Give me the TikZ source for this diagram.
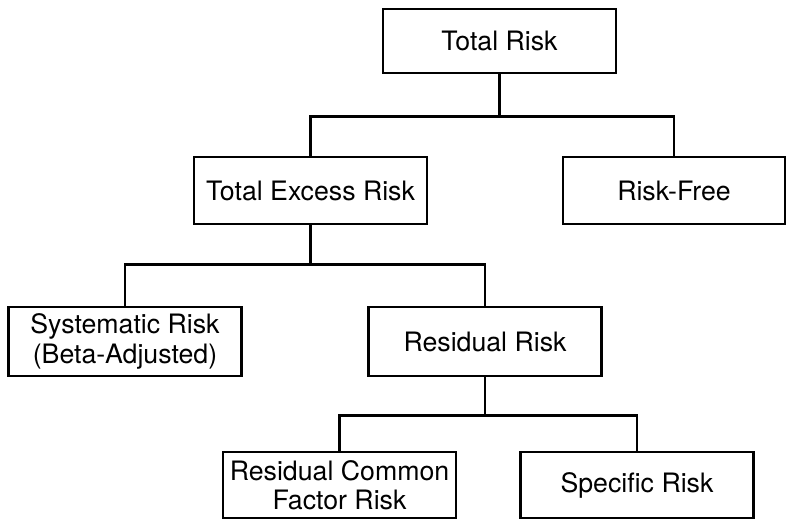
\documentclass[tikz,border=0pt]{standalone}
\usepackage{fontspec}
\setmainfont{TeX Gyre Heros}
\usepackage{tikz}

\begin{document}
\begin{tikzpicture}
    \useasboundingbox (0, 0) rectangle (15.74, -10.4);
    \begin{scope}[line width=1.5pt, every node/.style = {draw, inner sep=0pt, align=center,
        minimum width=4.66cm, minimum height=1.34cm, font=\fontsize{15.2}{16.6}\selectfont}]
      \node[minimum height=1.28cm] (total) at (9.99, -0.82) {Total Risk};
      \node (excess)   at (6.21, -3.81)  {Total Excess Risk};
      \node[minimum width=4.44cm] (riskFree) at (13.48, -3.81) {Risk-Free};
      \node[minimum height=1.38cm] (systematic) at (2.50, -6.83) {Systematic Risk\\(Beta-Adjusted)};
      \node[minimum height=1.38cm] (residual)   at (9.70, -6.83) {Residual Risk};
      \node[minimum height=1.32cm] (common)   at (6.79, -9.70)  {Residual Common\\Factor Risk};
      \node[minimum height=1.32cm] (specific) at (12.74, -9.70) {Specific Risk};
      \draw (total.south)    -- ++(0, -0.84) coordinate (split1);
      \draw (excess.north)   |- (split1) -| (riskFree.north);
      \draw (excess.south)   -- ++(0, -0.78) coordinate (split2);
      \draw (systematic.north) |- (split2) -| (residual.north);
      \draw (residual.south) -- ++(0, -0.76) coordinate (split3);
      \draw (common.north)   |- (split3) -| (specific.north);
    \end{scope}
  \end{tikzpicture}
\end{document}
